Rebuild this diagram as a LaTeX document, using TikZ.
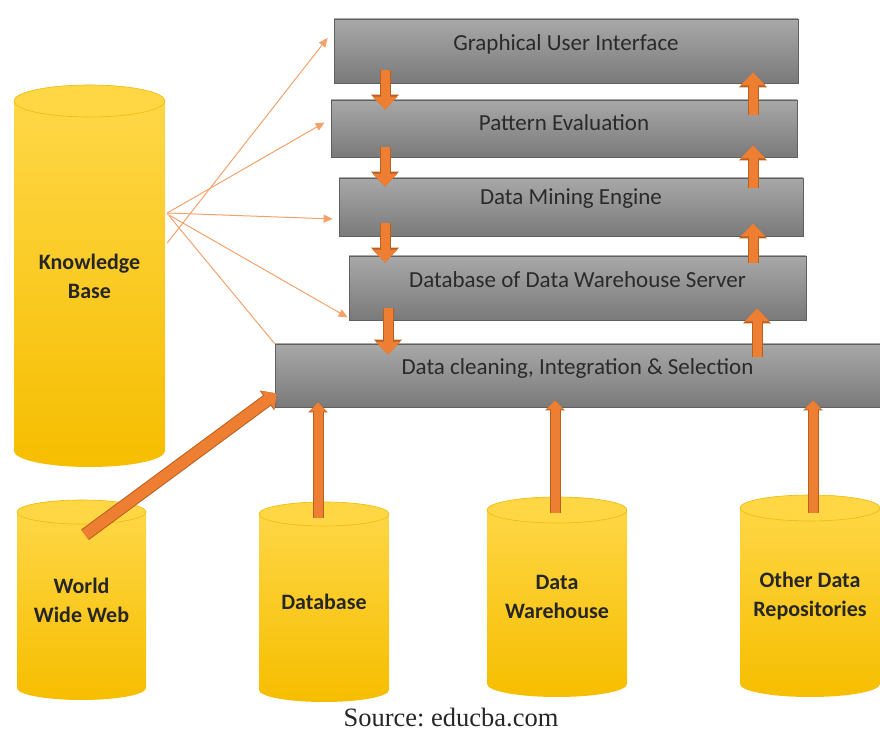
\documentclass[tikz,border=0pt]{standalone}
\usepackage{fontspec}
\setmainfont{Carlito}
\newfontfamily\srcfont{Liberation Serif}
\usetikzlibrary{arrows.meta,calc}
\definecolor{boxtop}{HTML}{A8A8A8}
\definecolor{boxbot}{HTML}{7A7A7A}
\definecolor{boxedge}{HTML}{606060}
\definecolor{textgray}{HTML}{2A2A2A}
\definecolor{cyltop}{HTML}{FFD84A}
\definecolor{cylbot}{HTML}{F6BE00}
\definecolor{cylcap}{HTML}{FFD745}
\definecolor{cyledge}{HTML}{EDBB10}
\definecolor{arroworange}{HTML}{EE7E32}
\definecolor{arrowedge}{HTML}{B8601F}
\definecolor{thinorange}{HTML}{F3A26C}
\newcommand{\mycyl}[7]{%
  \shade[top color=cyltop,bottom color=cylbot]
    (#2-#3,#4-#6) -- (#2-#3,#5+#6)
    arc[start angle=180,end angle=360,x radius=#3pt,y radius=#6pt]
    -- (#2+#3,#4-#6)
    arc[start angle=0,end angle=180,x radius=#3pt,y radius=#6pt] -- cycle;
  \filldraw[fill=cylcap,draw=cyledge,line width=0.6pt] (#2,#4-#6) ellipse[x radius=#3pt,y radius=#6pt];
  \node[cyltext,minimum width={2*#3pt},minimum height={(#4-#5)*1pt}] (#1) at (#2,{(#4+#5)/2}) {#7};
}
\tikzset{
  box/.style={rectangle,draw=boxedge,line width=0.8pt,top color=boxtop,bottom color=boxbot,
    text=textgray,font=\fontsize{23}{27}\selectfont,inner sep=0pt},
  cyltext/.style={rectangle,inner sep=0pt,align=center,text=black!85,font=\bfseries\fontsize{22}{29}\selectfont},
  bigarrow/.style={line width=9pt,draw=arroworange,-{Triangle[width=24pt,length=13pt]},
    preaction={draw=arrowedge,line width=11pt,-{Triangle[width=27pt,length=15pt]}}},
  lowarrow/.style={line width=9pt,draw=arroworange,-{Triangle[width=17pt,length=9pt]},
    preaction={draw=arrowedge,line width=11pt,-{Triangle[width=19pt,length=10pt]}}},
  webarrow/.style={line width=11pt,draw=arroworange,-{Triangle[width=22pt,length=11pt]},
    preaction={draw=arrowedge,line width=13pt,-{Triangle[width=24pt,length=12pt]}}},
  kbline/.style={draw=thinorange,line width=1pt,-{Triangle[width=8pt,length=9pt]}},
}
\begin{document}
\begin{tikzpicture}[x=1pt,y=1pt]
\useasboundingbox (0,0) rectangle (880,733);
% cylinders
\mycyl{kb}{89.5}{75.5}{648}{266}{16}{Knowledge\\Base}
\mycyl{www}{81.5}{64.5}{233}{33}{12}{World\\Wide Web}
\mycyl{db}{324}{65}{231}{31}{12}{Database}
\mycyl{dw}{557}{70}{236}{36}{13}{Data\\Warehouse}
\mycyl{odr}{810}{70}{238}{36}{13}{Other Data\\Repositories}
% boxes
\node[box,minimum width=464pt,minimum height=64pt] (gui) at (566,682)
  {\raisebox{7pt}[\height][\depth]{Graphical User Interface}};
\node[box,minimum width=466pt,minimum height=57pt] (pe) at (564,604.5)
  {\raisebox{6pt}[\height][\depth]{Pattern Evaluation}};
\node[box,minimum width=464pt,minimum height=58pt] (dme) at (571,526)
  {\raisebox{8pt}[\height][\depth]{Data Mining Engine}};
\node[box,minimum width=457pt,minimum height=64pt] (dbs) at (577.5,445)
  {\raisebox{8pt}[\height][\depth]{Database of Data Warehouse Server}};
\node[box,minimum width=605pt,minimum height=63pt] (dc) at (577.5,357.5)
  {\raisebox{7pt}[\height][\depth]{Data cleaning, Integration \& Selection}};
% knowledge base links
\draw[kbline] ($(kb.east)+(2,33)$) -- ($(gui.west)+(-6,13)$);
\draw[kbline] ($(kb.east)+(2,63)$) -- ($(pe.west)+(-6,6)$);
\draw[kbline] ($(kb.east)+(2,63)$) -- ($(dme.west)+(-6,-12)$);
\draw[kbline] ($(kb.east)+(2,62)$) -- ($(dbs.south west)+(-1,3)$);
\draw[draw=thinorange,line width=1pt] ($(kb.east)+(4,60)$) -- (dc.north west);
% column arrows
\coordinate (colL) at (385,0);
\coordinate (colR) at (753,0);
\draw[bigarrow] ($(gui.south -| colL)+(0,13)$) -- ($(pe.north -| colL)+(0,-10)$);
\draw[bigarrow] ($(pe.south -| colL)+(0,10)$) -- ($(dme.north -| colL)+(0,-9)$);
\draw[bigarrow] ($(dme.south -| colL)+(0,13)$) -- ($(dbs.north -| colL)+(0,-7)$);
\draw[bigarrow] ($(dbs.south -| colL)+(3,12)$) -- ($(dc.north -| colL)+(3,-11)$);
\draw[bigarrow] ($(pe.north -| colR)+(0,-15)$) -- ($(gui.south -| colR)+(0,11)$);
\draw[bigarrow] ($(dme.north -| colR)+(0,-10)$) -- ($(pe.south -| colR)+(0,12)$);
\draw[bigarrow] ($(dbs.north -| colR)+(0,-7)$) -- ($(dme.south -| colR)+(0,13)$);
\draw[bigarrow] ($(dc.north -| colR)+(4,-13)$) -- ($(dbs.south -| colR)+(4,12)$);
% source arrows
\draw[lowarrow] ($(db.north)+(-6,-16)$) -- ($(db.north |- dc.south)+(-6,5)$);
\draw[lowarrow] ($(dw.north)+(-2,-16)$) -- ($(dw.north |- dc.south)+(-2,7)$);
\draw[lowarrow] ($(odr.north)+(3,-18)$) -- ($(odr.north |- dc.south)+(3,7)$);
\draw[webarrow] ($(www.north)+(3.5,-35)$) -- ($(dc.south west)+(2,14)$);
% source
\node[font=\srcfont\fontsize{26.5}{30}\selectfont,text=black!85,anchor=base,inner sep=0pt] (src) at (451,7) {\frenchspacing Source: educba.com};
\end{tikzpicture}
\end{document}
